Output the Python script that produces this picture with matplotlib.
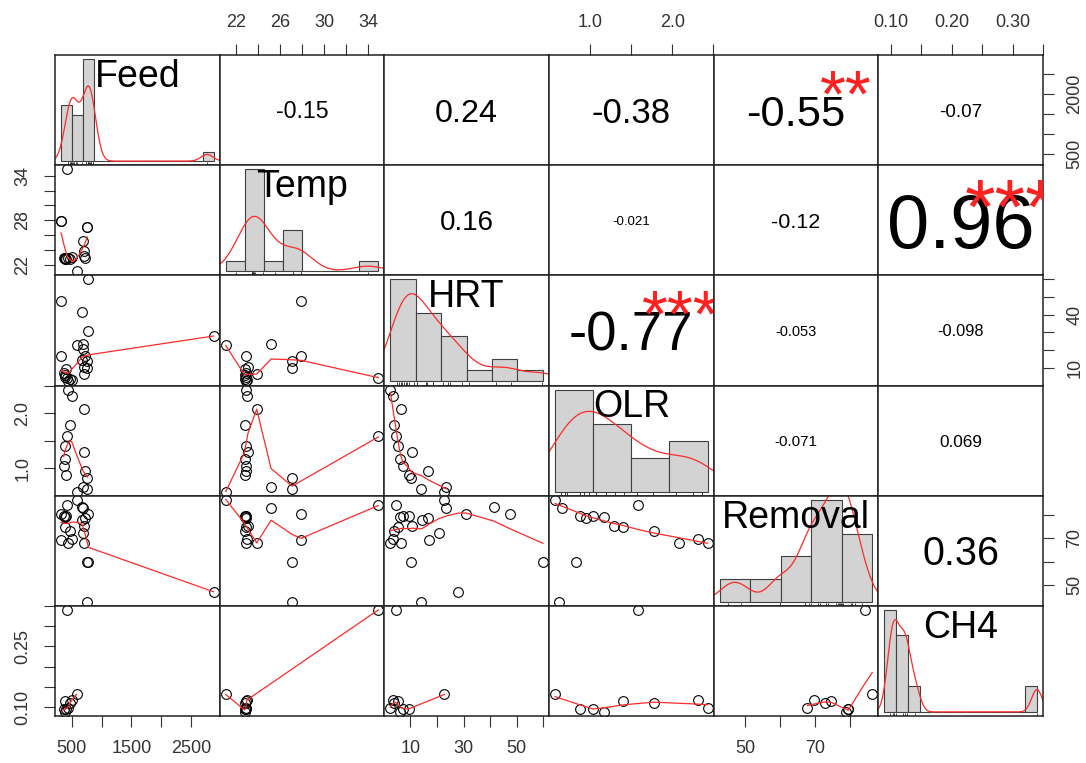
import numpy as np
import matplotlib
matplotlib.use("Agg")
import matplotlib.pyplot as plt
from matplotlib.transforms import ScaledTranslation

plt.rcParams["font.family"] = ["Liberation Sans", "DejaVu Sans"]

nan = np.nan
names = ["Feed", "Temp", "HRT", "OLR", "Removal", "CH4"]

# one value per sample, nan where the variable was not measured
feed = [414, 580, 700, 688, 745, 758, 318, 322, 430, 498, 469, 390,
        705, 380, 360, 722, 395, 2880, 778, 666, 778, 666, 693]
temp = [34.9, 21.1, 23.9, 25.2, 27.1, 27.1, 27.9, 27.9, 22.9, 23.0, 22.8, 22.9,
        23.1, 22.8, 22.9, 22.9, 22.8, nan, nan, nan, nan, nan, nan]
hrt = [4.5, 22.8, 6.4, 23.5, 10.3, 14.0, 47.6, 16.9, 2.5, 3.5, 4.0, 5.2,
       10.6, 6.0, 7.2, 16.8, 9.3, 28.0, 59.8, 41.4, 31.0, 14.5, 20.8]
olr = [1.58, 0.58, 2.08, 0.66, 0.83, 0.63, nan, nan, 2.43, 2.31, 1.78, 1.40,
       1.29, 1.17, 1.04, 0.95, 0.88, nan, nan, nan, nan, nan, nan]
removal = [84.3, 86.5, 68.0, 82.9, 59.8, 42.8, 80.2, 69.2, 67.9, 69.8, 72.9, 74.7,
           75.4, 79.0, 79.5, 78.8, 79.6, 47.1, 59.8, 83.4, 80.5, 78.0, 72.2]
ch4 = [0.340, 0.132, nan, nan, nan, nan, nan, nan, 0.099, 0.118, 0.112, 0.115,
       nan, 0.089, 0.095, nan, 0.097, nan, nan, nan, nan, nan, nan]

# upper panels, row by row
cor_text = ["-0.15", "0.24", "-0.38", "-0.55", "-0.07",
            "0.16", "-0.021", "-0.12", "0.96",
            "-0.77", "-0.053", "-0.098",
            "-0.071", "0.069",
            "0.36"]
cor_stars = ["", "", "", "**", "",
             "", "", "", "***",
             "***", "", "",
             "", "",
             ""]

bin_width = [200, 2, 10, 0.5, 10, 0.02]
tick_step = [500, 2, 10, 0.5, 10, 0.05]
label_every_y = [3, 3, 3, 2, 2, 3]
tick_fmt = ["%d", "%d", "%d", "%.1f", "%d", "%.2f"]

data = [np.array(v, float) for v in (feed, temp, hrt, olr, removal, ch4)]


def padded(lo, hi):
    d = (hi - lo) * 0.04
    return lo - d, hi + d


def lowess(x, y, f=2 / 3, iters=3):
    o = np.argsort(x, kind="stable")
    x, y = x[o], y[o]
    n = len(x)
    ns = max(2, min(n, int(f * n + 1e-7)))
    rw = np.ones(n)
    fit = np.zeros(n)
    for it in range(iters + 1):
        for i in range(n):
            d = np.abs(x - x[i])
            h = np.sort(d)[ns - 1]
            if h > 0:
                u = np.clip(d / h, 0, 1)
                w = (1 - u ** 3) ** 3
                w[d > 0.999 * h] = 0
            else:
                w = (d == 0).astype(float)
            w = w * rw
            if w.sum() <= 0:
                fit[i] = y[i]
                continue
            w = w / w.sum()
            xm = (w * x).sum()
            b = (w * (x - xm) ** 2).sum()
            if b > 0 and np.sqrt(b) > 0.001 * (x[-1] - x[0]):
                fit[i] = (w * y).sum() + (w * (x - xm) * y).sum() / b * (x[i] - xm)
            else:
                fit[i] = (w * y).sum()
        if it == iters:
            break
        res = np.abs(y - fit)
        m = np.median(res)
        if m == 0:
            break
        u = res / (6 * m)
        rw = np.where(u < 1, (1 - u ** 2) ** 2, 0)
    return x, fit


def density(v):
    n = len(v)
    q75, q25 = np.percentile(v, [75, 25])
    lo = min(np.std(v, ddof=1), (q75 - q25) / 1.34)
    if lo == 0:
        lo = np.std(v, ddof=1)
    bw = 0.9 * lo * n ** -0.2
    xs = np.linspace(v.min() - 3 * bw, v.max() + 3 * bw, 512)
    ys = np.exp(-0.5 * ((xs[:, None] - v[None, :]) / bw) ** 2).sum(1) / (n * bw * np.sqrt(2 * np.pi))
    return xs, ys


lims = []
for v in data:
    v = v[np.isfinite(v)]
    lims.append(padded(v.min(), v.max()))

fig, axes = plt.subplots(6, 6, figsize=(10.86, 7.63), dpi=100)
fig.subplots_adjust(left=55 / 1086, right=1043 / 1086, top=1 - 55 / 763,
                    bottom=1 - 716 / 763, wspace=0, hspace=0)
renderer = fig.canvas.get_renderer()


def shifted(ax, pts):
    return ax.transAxes + ScaledTranslation(0, pts / 72, fig.dpi_scale_trans)


k = 0
for i in range(6):
    for j in range(6):
        ax = axes[i, j]
        ax.set_xticks([])
        ax.set_yticks([])
        for sp in ax.spines.values():
            sp.set_linewidth(1.1)
            sp.set_color("#222222")

        if i == j:
            v = data[i][np.isfinite(data[i])]
            bw = bin_width[i]
            e0 = np.floor(v.min() / bw + 1e-9) * bw
            e1 = np.ceil(v.max() / bw - 1e-9) * bw
            nb = int(round((e1 - e0) / bw))
            edges = np.linspace(e0, e1, nb + 1)
            dens, _ = np.histogram(v, edges, density=True)
            ax.bar(edges[:-1], dens, width=bw, align="edge", color="#d3d3d3",
                   edgecolor="#404040", linewidth=0.8)
            xs, ys = density(v)
            ax.plot(xs, ys, color="#ff2a2a", lw=0.9)
            ax.vlines(v, 0, 0.03, transform=ax.get_xaxis_transform(),
                      color="#222222", lw=0.6)
            ax.set_xlim(padded(e0, e1))
            m = dens.max()
            ax.set_ylim(-0.04 * m, 1.04 * m)
            ax.text(0.5, 0.833, names[i], fontsize=27, ha="center", va="baseline",
                    transform=shifted(ax, -0.36 * 27))
        elif i > j:
            x, y = data[j], data[i]
            ok = np.isfinite(x) & np.isfinite(y)
            ax.plot(x[ok], y[ok], "o", mfc="none", mec="black", ms=7, mew=0.8)
            lx, ly = lowess(x[ok], y[ok])
            ax.plot(lx, ly, color="#ff2a2a", lw=0.9)
            ax.set_xlim(lims[j])
            ax.set_ylim(lims[i])
        else:
            ax.set_xlim(lims[j])
            ax.set_ylim(lims[i])
            txt = cor_text[k]
            stars = cor_stars[k]
            k += 1
            r = abs(float(txt))
            probe = ax.text(0.5, 0.5, txt, fontsize=10, transform=ax.transAxes)
            w = probe.get_window_extent(renderer).width
            probe.remove()
            pw = ax.get_window_extent(renderer).width
            full = 10 * 0.92 * pw / w
            fs = full * (r + 0.3) / 1.3
            ax.text(0.5, 0.5, txt, fontsize=fs, ha="center", va="baseline",
                    transform=shifted(ax, -0.36 * fs))
            if stars:
                t = ax.text(0.8, 0.8, stars, fontsize=full, ha="center", va="baseline",
                            color="#ff2020", clip_on=True,
                            transform=shifted(ax, -0.59 * full))
                t.set_clip_path(ax.patch)


def put_ticks(ax, axis, var, side, every):
    lo, hi = lims[var]
    step = tick_step[var]
    t = np.arange(np.ceil(lo / step - 1e-9) * step, hi + 1e-9, step)
    t = t[(t >= lo) & (t <= hi)]
    labels = [tick_fmt[var] % round(val, 3) if n % every == 0 else "" for n, val in enumerate(t)]
    if axis == "x":
        ax.set_xticks(t, labels)
        ax.tick_params(axis="x", bottom=(side == "bottom"), labelbottom=(side == "bottom"),
                       top=(side == "top"), labeltop=(side == "top"))
    else:
        ax.set_yticks(t, labels)
        ax.tick_params(axis="y", left=(side == "left"), labelleft=(side == "left"),
                       right=(side == "right"), labelright=(side == "right"))
        for lab in (ax.get_yticklabels()):
            lab.set_rotation(90)
            lab.set_va("center")
    ax.tick_params(axis=axis, direction="out", length=8, width=0.8, colors="#333333",
                   labelsize=13, pad=9)


for j in range(6):
    if j % 2 == 0:
        put_ticks(axes[5, j], "x", j, "bottom", 2)
    else:
        put_ticks(axes[0, j], "x", j, "top", 2)
for i in range(6):
    if i % 2 == 1:
        put_ticks(axes[i, 0], "y", i, "left", label_every_y[i])
    else:
        put_ticks(axes[i, 5], "y", i, "right", label_every_y[i])

fig.savefig("out.png", dpi=100)
